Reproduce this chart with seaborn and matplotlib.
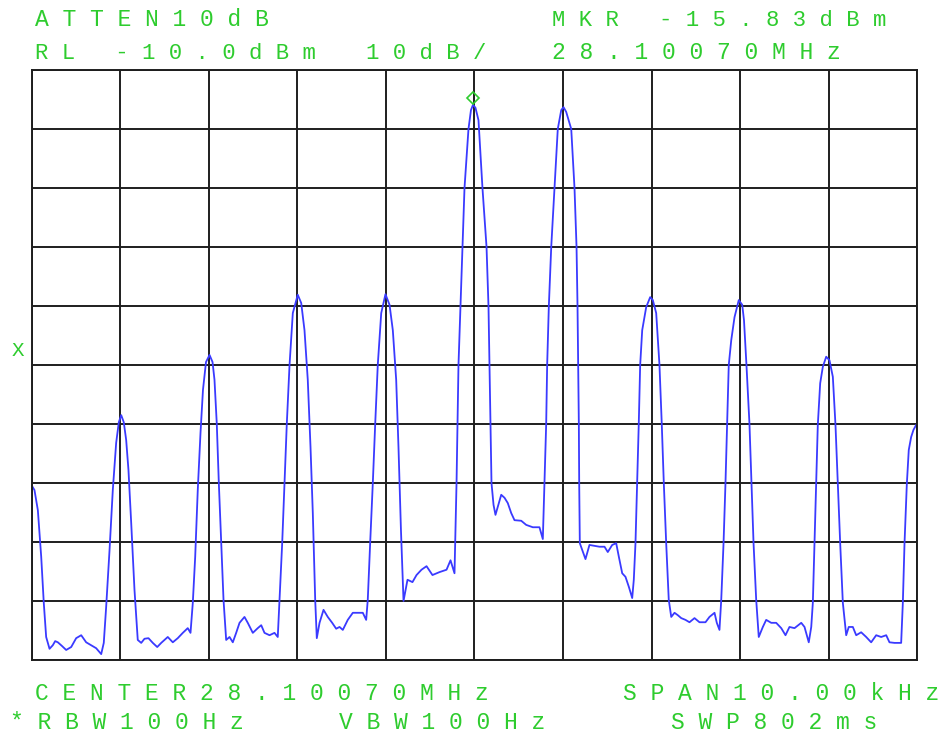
"""
Spectrum analyzer screen: two-tone IMD trace around 28.1007 MHz.
"""

import numpy as np
import matplotlib
matplotlib.use("Agg")
import matplotlib.pyplot as plt
import matplotlib.transforms as mtransforms
import seaborn as sns

# Trace: frequency offset from center (kHz) and level (dBm)
freq_khz = [
    -5.000, -4.972, -4.934, -4.896, -4.867, -4.840, -4.802, -4.765, -4.738, -4.708,
    -4.663, -4.614, -4.557, -4.501, -4.444, -4.388, -4.331, -4.275, -4.218, -4.189,
    -4.162, -4.124, -4.087, -4.049, -4.019, -3.992, -3.963, -3.936, -3.910, -3.879,
    -3.842, -3.805, -3.766, -3.729, -3.684, -3.635, -3.585, -3.540, -3.466, -3.409,
    -3.353, -3.296, -3.240, -3.209, -3.183, -3.156, -3.127, -3.096, -3.068, -3.034,
    -2.994, -2.960, -2.938, -2.912, -2.889, -2.862, -2.836, -2.806, -2.768, -2.731,
    -2.693, -2.655, -2.599, -2.562, -2.505, -2.449, -2.410, -2.373, -2.316, -2.260,
    -2.223, -2.203, -2.173, -2.147, -2.121, -2.090, -2.053, -1.997, -1.958, -1.921,
    -1.884, -1.853, -1.827, -1.800, -1.782, -1.751, -1.706, -1.658, -1.608, -1.563,
    -1.525, -1.488, -1.432, -1.375, -1.319, -1.262, -1.224, -1.206, -1.179, -1.149,
    -1.122, -1.093, -1.054, -1.006, -0.960, -0.923, -0.885, -0.859, -0.831, -0.802,
    -0.757, -0.701, -0.655, -0.599, -0.542, -0.475, -0.395, -0.316, -0.271, -0.226,
    -0.203, -0.192, -0.181, -0.158, -0.136, -0.113, -0.068, -0.040, -0.017, 0.011,
    0.045, 0.090, 0.136, 0.158, 0.169, 0.181, 0.192, 0.215, 0.237, 0.302,
    0.339, 0.376, 0.415, 0.452, 0.528, 0.584, 0.659, 0.734, 0.772, 0.791,
    0.810, 0.821, 0.840, 0.867, 0.904, 0.941, 0.980, 1.006, 1.036, 1.093,
    1.130, 1.153, 1.164, 1.172, 1.179, 1.183, 1.190, 1.254, 1.299, 1.412,
    1.469, 1.506, 1.556, 1.601, 1.631, 1.669, 1.706, 1.744, 1.782, 1.800,
    1.819, 1.838, 1.856, 1.872, 1.895, 1.940, 1.985, 2.015, 2.053, 2.090,
    2.116, 2.139, 2.166, 2.195, 2.223, 2.260, 2.297, 2.336, 2.384, 2.429,
    2.486, 2.542, 2.610, 2.655, 2.712, 2.738, 2.768, 2.788, 2.814, 2.836,
    2.855, 2.873, 2.901, 2.938, 2.986, 3.025, 3.045, 3.073, 3.107, 3.130,
    3.153, 3.183, 3.212, 3.258, 3.296, 3.353, 3.409, 3.466, 3.514, 3.559,
    3.616, 3.692, 3.729, 3.777, 3.805, 3.823, 3.842, 3.861, 3.879, 3.906,
    3.936, 3.974, 4.011, 4.049, 4.079, 4.105, 4.132, 4.162, 4.200, 4.229,
    4.275, 4.313, 4.369, 4.426, 4.482, 4.539, 4.595, 4.652, 4.689, 4.746,
    4.802, 4.821, 4.840, 4.859, 4.885, 4.907, 4.934, 4.960, 4.989, 5.000,
]

level_dbm = [
    -80.5, -81.2, -84.6, -92.5, -100.3, -106.1, -108.1, -107.5, -106.8, -107.0,
    -107.6, -108.3, -107.8, -106.3, -105.8, -107.0, -107.5, -108.0, -109.0, -107.1,
    -101.0, -91.4, -81.2, -73.2, -69.7, -68.5, -69.7, -72.7, -77.8, -86.8,
    -98.1, -106.6, -107.1, -106.4, -106.3, -107.1, -107.8, -107.1, -106.1, -107.0,
    -106.3, -105.4, -104.6, -105.4, -100.3, -92.5, -81.2, -71.5, -64.2, -59.5,
    -58.3, -59.5, -62.5, -70.0, -80.0, -90.2, -99.8, -106.6, -106.1, -107.0,
    -105.4, -103.7, -102.7, -103.7, -105.4, -104.6, -104.1, -105.4, -105.8, -105.4,
    -106.1, -99.8, -90.2, -80.0, -70.0, -60.0, -51.2, -48.1, -49.5, -54.1,
    -62.5, -73.9, -85.1, -99.8, -106.3, -103.7, -101.5, -102.7, -103.7, -104.7,
    -104.4, -104.9, -103.2, -102.0, -102.0, -102.0, -103.2, -99.8, -90.2, -80.0,
    -70.0, -60.0, -51.2, -48.0, -49.8, -54.1, -62.5, -73.9, -88.0, -100.0,
    -96.4, -96.8, -95.6, -94.7, -94.1, -95.6, -95.1, -94.7, -93.1, -95.3,
    -80.0, -70.0, -60.0, -50.0, -40.0, -30.0, -20.0, -16.8, -15.9, -16.4,
    -18.5, -30.0, -40.0, -50.0, -60.0, -70.0, -80.0, -83.7, -85.4, -82.0,
    -82.5, -83.4, -85.1, -86.3, -86.4, -87.1, -87.5, -87.5, -89.5, -80.0,
    -70.0, -60.0, -50.0, -40.0, -30.0, -20.0, -16.8, -16.3, -17.1, -20.0,
    -30.0, -40.0, -50.0, -60.0, -70.0, -80.0, -90.2, -92.9, -90.5, -90.8,
    -90.8, -91.7, -90.5, -90.2, -92.5, -95.3, -95.9, -97.6, -99.5, -96.4,
    -90.2, -80.0, -70.0, -60.0, -54.1, -50.2, -48.5, -49.0, -51.2, -60.0,
    -70.0, -80.0, -90.2, -99.8, -102.7, -102.0, -102.4, -102.9, -103.2, -103.6,
    -102.9, -103.6, -103.6, -102.7, -102.0, -103.7, -104.9, -99.8, -90.2, -80.0,
    -70.0, -60.0, -55.8, -51.9, -49.0, -49.8, -52.4, -60.0, -70.0, -80.0,
    -90.2, -99.8, -106.1, -104.4, -103.2, -103.7, -103.7, -104.6, -105.8, -104.4,
    -104.6, -103.7, -104.4, -107.0, -104.4, -100.3, -90.2, -80.2, -70.2, -63.1,
    -60.3, -58.6, -59.2, -62.0, -70.2, -80.2, -90.2, -100.3, -105.8, -104.4,
    -104.4, -105.8, -105.3, -106.1, -107.0, -105.8, -106.1, -105.8, -107.0, -107.1,
    -107.1, -107.1, -100.3, -90.2, -80.2, -74.4, -72.2, -71.0, -70.2, -70.0,
]

# Marker readout and instrument settings shown on screen
marker_dbm = -15.83
ref_level_dbm = -10.0
db_per_div = 10
span_khz = 10.0
n_div = 10

top_line1 = ["ATTEN10dB", "MKR -15.83dBm"]
top_line2 = ["RL -10.0dBm", "10dB/", "28.10070MHz"]
bottom_line1 = ["CENTER28.10070MHz", "SPAN10.00kHz"]
bottom_line2 = ["*RBW100Hz", "VBW100Hz", "SWP802ms"]

GREEN = "#2ecc2e"
TRACE = "#3a3aff"
GRID = "#1e1e1e"

sns.set_theme(style="white")
plt.rcParams["font.family"] = ["Liberation Mono", "DejaVu Sans Mono"]

W, H = 953, 739
fig = plt.figure(figsize=(W / 100, H / 100), dpi=100)
fig.patch.set_facecolor("white")
ax = fig.add_axes([32 / W, 1 - 660 / H, (917 - 32) / W, (660 - 70) / H])

sns.lineplot(x=freq_khz, y=level_dbm, ax=ax, color=TRACE, linewidth=1.3,
             sort=False, estimator=None)

# marker diamond sits just above the peak
peak_f = freq_khz[int(np.argmax(level_dbm))]
above = mtransforms.offset_copy(ax.transData, fig=fig, x=0, y=6, units="dots")
ax.plot([peak_f], [marker_dbm], marker="D", markersize=6.5, markerfacecolor="none",
        markeredgecolor=GREEN, markeredgewidth=1.2, transform=above, clip_on=False)

bottom_db = ref_level_dbm - db_per_div * n_div
ax.set_xlim(-span_khz / 2, span_khz / 2)
ax.set_ylim(bottom_db, ref_level_dbm)
ax.set_xticks(np.linspace(-span_khz / 2, span_khz / 2, n_div + 1))
ax.set_yticks(np.arange(bottom_db, ref_level_dbm + 1, db_per_div))
ax.tick_params(length=0, labelbottom=False, labelleft=False)
ax.set_xlabel("")
ax.set_ylabel("")
ax.grid(True, color=GRID, linewidth=1.4)
ax.set_axisbelow(True)
for sp in ax.spines.values():
    sp.set_color(GRID)
    sp.set_linewidth(1.4)


def spaced(x_px, base_px, s, size=16.0):
    """Screen text with the wide letter pitch of the analyzer."""
    fig.text(x_px / W, 1 - base_px / H, " ".join(s), color=GREEN, fontsize=size,
             va="baseline", ha="left")


spaced(35, 26, top_line1[0], 16.6)
spaced(552, 26, top_line1[1], 16.0)
spaced(35, 59, top_line2[0], 16.0)
spaced(366, 59, top_line2[1], 16.0)
spaced(552, 59, top_line2[2], 16.6)
spaced(35, 700, bottom_line1[0], 16.5)
spaced(623, 700, bottom_line1[1], 16.6)
spaced(10, 729, bottom_line2[0], 16.6)
spaced(339, 729, bottom_line2[1], 16.6)
spaced(671, 729, bottom_line2[2], 16.6)
fig.text(18 / W, 1 - 350 / H, "X", color=GREEN, fontsize=15, ha="center", va="center")

fig.savefig("out.png", dpi=100)
